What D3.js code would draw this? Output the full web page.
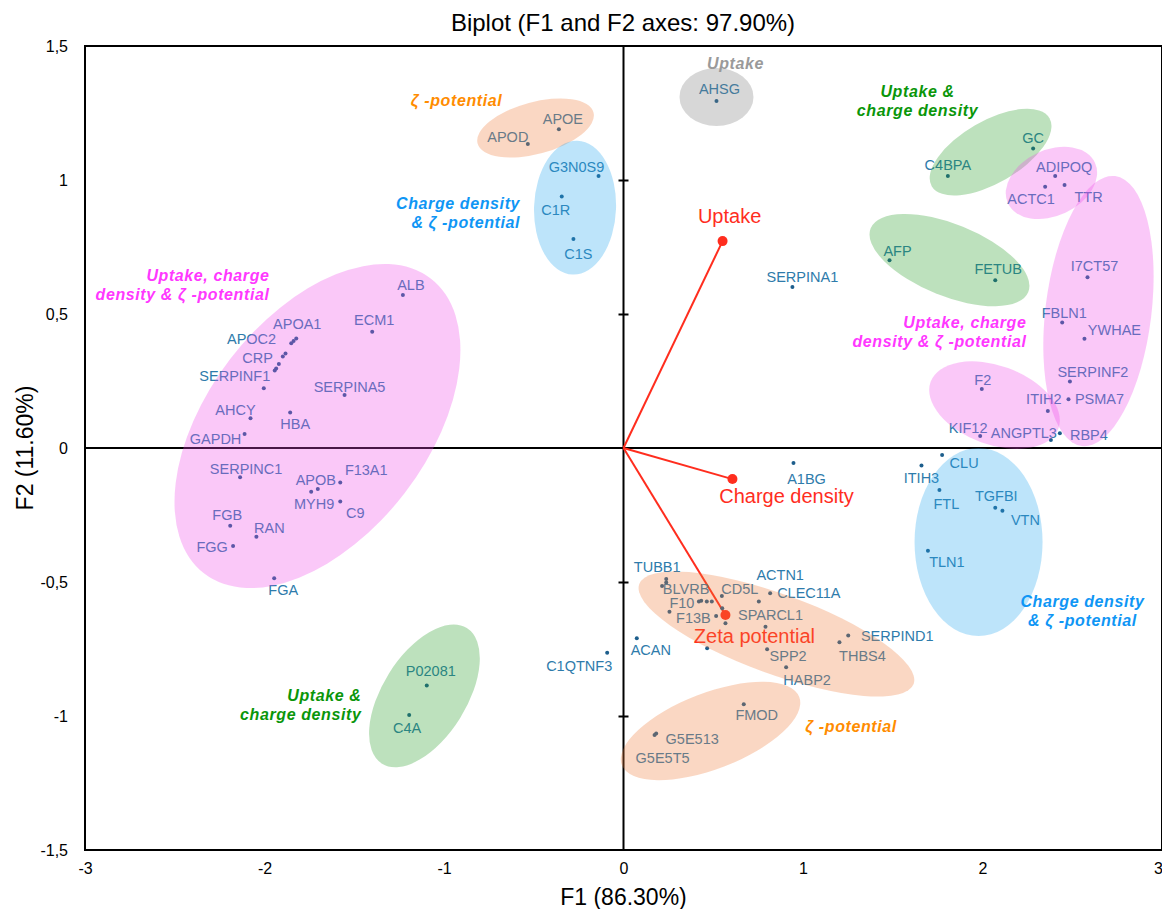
<!DOCTYPE html>
<html>
<head>
<meta charset="utf-8">
<script src="https://cdn.jsdelivr.net/npm/d3@7"></script>
<style>
  body { margin: 0; background: #fff; }
  svg { display: block; font-family: "Liberation Sans", Arial, sans-serif; }
</style>
</head>
<body>
<svg id="chart" width="1162" height="909"></svg>
<script>
// observations (proteins), "" = unlabeled point
const proteins = [
  "ALB","ECM1","APOA1","APOC2","","CRP","","","","","SERPINF1","SERPINA5","AHCY","HBA","GAPDH",
  "SERPINC1","APOB","MYH9","F13A1","C9","FGB","RAN","FGG","FGA",
  "APOE","APOD","G3N0S9","C1R","C1S","AHSG","SERPINA1","A1BG",
  "GC","C4BPA","ADIPOQ","ACTC1","TTR","AFP","FETUB","I7CT57","FBLN1","YWHAE","SERPINF2","PSMA7",
  "ITIH2","RBP4","ANGPTL3","KIF12","F2","CLU","ITIH3","FTL","TGFBI","VTN","TLN1",
  "TUBB1","","BLVRB","CD5L","ACTN1","CLEC11A","F10","","","","F13B","","","","SPARCL1","",
  "SPP2","HABP2","THBS4","SERPIND1","ACAN","FMOD","G5E513","G5E5T5","C1QTNF3","P02081","C4A"
];
const f1 = [
  -1.229,-1.400,-1.823,-1.838,-1.851,-1.883,-1.898,-1.920,-1.935,-1.943,-2.004,-1.554,-2.078,-1.857,-2.111,
  -2.136,-1.703,-1.740,-1.578,-1.578,-2.191,-2.045,-2.175,-1.946,
  -0.360,-0.533,-0.139,-0.344,-0.279,0.518,0.941,0.947,
  2.282,1.807,2.405,2.349,2.457,1.482,2.071,2.585,2.444,2.568,2.487,2.479,
  2.364,2.431,2.381,1.987,1.996,1.775,1.660,1.760,2.071,2.111,1.696,
  0.238,0.238,0.215,0.548,0.817,0.754,0.420,0.433,0.464,0.492,0.256,0.516,0.550,0.568,0.791,0.466,
  0.800,0.906,1.203,1.252,0.074,0.670,0.182,0.173,-0.091,-1.096,-1.194
];
const f2 = [
  0.571,0.434,0.409,0.399,0.391,0.353,0.341,0.313,0.297,0.289,0.223,0.198,0.111,0.132,0.052,
  -0.109,-0.153,-0.163,-0.129,-0.200,-0.290,-0.331,-0.366,-0.486,
  1.189,1.134,1.015,0.938,0.780,1.295,0.601,-0.056,
  1.118,1.015,1.015,0.975,0.981,0.701,0.626,0.637,0.468,0.408,0.248,0.182,
  0.138,0.055,0.030,0.045,0.220,-0.026,-0.065,-0.157,-0.223,-0.234,-0.383,
  -0.489,-0.502,-0.515,-0.552,-0.542,-0.573,-0.573,-0.570,-0.573,-0.573,-0.611,-0.627,-0.598,-0.654,-0.667,-0.747,
  -0.751,-0.818,-0.725,-0.700,-0.710,-0.956,-1.065,-1.071,-0.764,-0.886,-0.996
];

// active variables (vectors)
const variables = ["Uptake", "Charge density", "Zeta potential"];
const varF1 = [0.552, 0.607, 0.568];
const varF2 = [0.772, -0.116, -0.623];

const xTicks = [-3, -2, -1, 0, 1, 2, 3];
const yTicks = [-1.5, -1, -0.5, 0, 0.5, 1, 1.5];

// label placement (px offset of label centre from its point)
const labelOffset = {
  ALB:[8,-10], ECM1:[2,-12], APOA1:[1,-14], APOC2:[-42,-2], CRP:[-28,5], SERPINF1:[-29,-12],
  SERPINA5:[5,-8], AHCY:[-15,-8], HBA:[5,11], GAPDH:[-29,5], SERPINC1:[6,-8], APOB:[-2,-9],
  MYH9:[3,12], F13A1:[26,-13], C9:[15,11], FGB:[-3,-11], RAN:[13,-9], FGG:[-21,1], FGA:[9,12],
  APOE:[4,-10], APOD:[-20,-7], G3N0S9:[-22,-9], C1R:[-6,13], C1S:[5,15], AHSG:[3,-12],
  SERPINA1:[10,-10], A1BG:[13,16],
  GC:[0,-10], C4BPA:[0,-11], ADIPOQ:[9,-9], ACTC1:[-14,12], TTR:[24,12], AFP:[8,-9], FETUB:[3,-11],
  I7CT57:[7,-11], FBLN1:[2,-10], YWHAE:[30,-9], SERPINF2:[23,-10], PSMA7:[31,0], ITIH2:[-4,-12],
  RBP4:[29,2], ANGPTL3:[-27,-7], KIF12:[-12,-8], F2:[1,-9], CLU:[22,8], ITIH3:[0,13], FTL:[7,14],
  TGFBI:[1,-12], VTN:[23,9], TLN1:[19,11],
  TUBB1:[-9,-12], BLVRB:[24,3], CD5L:[18,-7], ACTN1:[10,-18], CLEC11A:[50,-9], F10:[-17,1],
  F13B:[24,6], SPARCL1:[5,-12], SPP2:[21,7], HABP2:[21,13], THBS4:[23,14], SERPIND1:[49,0],
  ACAN:[14,12], FMOD:[13,11], G5E513:[36,6], G5E5T5:[8,23], C1QTNF3:[-28,13], P02081:[4,-14], C4A:[-2,13]
};
const varLabelOffset = [[7,-25],[54,17],[29,21]];

// group ellipses: centre in F1/F2 units, radii px, rotation deg
const groups = [
  {f1:-1.705, f2: 0.082, rx:186, ry:110, rot:-52.5, color:"rgb(238,72,232)"},
  {f1:-0.490, f2: 1.194, rx:60,  ry:26,  rot:-15,   color:"rgb(238,122,55)"},
  {f1:-0.270, f2: 0.897, rx:41,  ry:67,  rot:2,     color:"rgb(38,165,238)"},
  {f1: 0.518, f2: 1.310, rx:37,  ry:29,  rot:0,     color:"rgb(122,122,122)"},
  {f1: 2.045, f2: 1.104, rx:68,  ry:31,  rot:-30,   color:"rgb(38,155,38)"},
  {f1: 2.384, f2: 0.989, rx:48,  ry:33,  rot:-25,   color:"rgb(238,72,232)"},
  {f1: 1.816, f2: 0.701, rx:85,  ry:36,  rot:22,    color:"rgb(38,155,38)"},
  {f1: 2.646, f2: 0.511, rx:53,  ry:136, rot:7,     color:"rgb(238,72,232)"},
  {f1: 2.067, f2: 0.160, rx:68,  ry:39.5,rot:20,    color:"rgb(238,72,232)"},
  {f1: 1.978, f2:-0.351, rx:64,  ry:94,  rot:0,     color:"rgb(38,165,238)"},
  {f1: 0.852, f2:-0.694, rx:146, ry:40,  rot:20,    color:"rgb(238,122,55)"},
  {f1: 0.485, f2:-1.056, rx:95,  ry:38,  rot:-21,   color:"rgb(238,122,55)"},
  {f1:-1.109, f2:-0.925, rx:80,  ry:42,  rot:-58,   color:"rgb(38,155,38)"}
];

// group captions
const captions = [
  {lines:["ζ -potential"], f1:-0.930, f2:1.295, anchor:"middle", color:"#ff8c00"},
  {lines:["Uptake"], f1:0.624, f2:1.433, anchor:"middle", color:"#9a9a9a"},
  {lines:["Uptake &","charge density"], f1:1.638, f2:1.332, anchor:"middle", color:"#0a960a"},
  {lines:["Charge density","& ζ -potential"], f1:-0.576, f2:0.914, anchor:"end", color:"#0f96f5"},
  {lines:["Uptake, charge","density & ζ -potential"], f1:-1.972, f2:0.642, anchor:"end", color:"#ff38ff"},
  {lines:["Uptake, charge","density & ζ -potential"], f1:2.245, f2:0.470, anchor:"end", color:"#ff38ff"},
  {lines:["Charge density","& ζ -potential"], f1:2.557, f2:-0.571, anchor:"middle", color:"#0f96f5"},
  {lines:["Uptake &","charge density"], f1:-1.460, f2:-0.922, anchor:"end", color:"#0a960a"},
  {lines:["ζ -potential"], f1:1.268, f2:-1.040, anchor:"middle", color:"#ff8c00"}
];

const width = 1162, height = 909;
const svg = d3.select("#chart");

const x = d3.scaleLinear().domain([-3, 3]).range([85, 1162]);
const y = d3.scaleLinear().domain([-1.5, 1.5]).range([850, 46]);
const comma = d => String(d).replace(".", ",");

// title
svg.append("text")
  .attr("x", 623).attr("y", 22)
  .attr("text-anchor", "middle").attr("dominant-baseline", "central")
  .style("font-size", "24px")
  .text("Biplot (F1 and F2 axes: 97.90%)");

// tick labels
svg.append("g")
  .attr("transform", `translate(${x(-3)},0)`)
  .call(d3.axisLeft(y).tickValues(yTicks).tickSize(0).tickPadding(17).tickFormat(comma))
  .call(g => g.select(".domain").remove())
  .selectAll("text").style("font-size", "16px").attr("fill", "#000")
  .attr("font-family", null);

svg.append("g")
  .attr("transform", `translate(0,${y(-1.5)})`)
  .call(d3.axisBottom(x).tickValues(xTicks).tickSize(0).tickPadding(13).tickFormat(comma))
  .call(g => g.select(".domain").remove())
  .selectAll("text").style("font-size", "16px").attr("fill", "#000")
  .attr("font-family", null)
  .attr("dx", d => d === 3 ? -4 : 0);

// axis titles
svg.append("text")
  .attr("x", x(0)).attr("y", 897)
  .attr("text-anchor", "middle").attr("dominant-baseline", "central")
  .style("font-size", "23px")
  .text("F1 (86.30%)");
svg.append("text")
  .attr("transform", `translate(25,${y(0)}) rotate(-90)`)
  .attr("text-anchor", "middle").attr("dominant-baseline", "central")
  .style("font-size", "23px")
  .text("F2 (11.60%)");

// frame
svg.append("rect")
  .attr("x", x(-3)).attr("y", y(1.5))
  .attr("width", x(3) - x(-3)).attr("height", y(-1.5) - y(1.5))
  .attr("fill", "none").attr("stroke", "#000").attr("stroke-width", 2);

// zero axes
svg.append("line")
  .attr("x1", x(-3)).attr("x2", x(3)).attr("y1", y(0)).attr("y2", y(0))
  .attr("stroke", "#000").attr("stroke-width", 2);
svg.append("line")
  .attr("x1", x(0)).attr("x2", x(0)).attr("y1", y(1.5)).attr("y2", y(-1.5))
  .attr("stroke", "#000").attr("stroke-width", 2);

const innerTicks = yTicks.filter(d => d !== 0 && Math.abs(d) < 1.5);
[d3.axisLeft, d3.axisRight].forEach(ax => {
  svg.append("g")
    .attr("transform", `translate(${x(0)},0)`)
    .call(ax(y).tickValues(innerTicks).tickSize(5).tickFormat(""))
    .call(g => g.select(".domain").remove())
    .selectAll("line").attr("stroke", "#000").attr("stroke-width", 2);
});

// variable vectors
const vec = svg.append("g");
variables.forEach((v, i) => {
  vec.append("line")
    .attr("x1", x(0)).attr("y1", y(0))
    .attr("x2", x(varF1[i])).attr("y2", y(varF2[i]))
    .attr("stroke", "#ff2d1e").attr("stroke-width", 2);
  vec.append("circle")
    .attr("cx", x(varF1[i])).attr("cy", y(varF2[i])).attr("r", 5)
    .attr("fill", "#ff2d1e");
  vec.append("text")
    .attr("x", x(varF1[i]) + varLabelOffset[i][0])
    .attr("y", y(varF2[i]) + varLabelOffset[i][1])
    .attr("text-anchor", "middle").attr("dominant-baseline", "central")
    .attr("fill", "#ff2d1e").style("font-size", "20px")
    .text(v);
});

// observations
const obs = proteins.map((p, i) => ({name: p, f1: f1[i], f2: f2[i]}));
svg.append("g").selectAll("circle")
  .data(obs).join("circle")
  .attr("cx", d => x(d.f1)).attr("cy", d => y(d.f2))
  .attr("r", 2).attr("fill", "#1d5e8c");

svg.append("g").selectAll("text")
  .data(obs.filter(d => d.name && labelOffset[d.name]))
  .join("text")
  .attr("x", d => x(d.f1) + labelOffset[d.name][0])
  .attr("y", d => y(d.f2) + labelOffset[d.name][1])
  .attr("text-anchor", "middle").attr("dominant-baseline", "central")
  .attr("fill", "#2e7bab").style("font-size", "14.5px")
  .text(d => d.name);

// group ellipses drawn on top, translucent
svg.append("g").selectAll("ellipse")
  .data(groups).join("ellipse")
  .attr("transform", d => `translate(${x(d.f1)},${y(d.f2)}) rotate(${d.rot})`)
  .attr("rx", d => d.rx).attr("ry", d => d.ry)
  .attr("fill", d => d.color).attr("fill-opacity", 0.3);

// group captions
const cap = svg.append("g")
  .style("font-size", "16px").style("font-weight", "bold").style("font-style", "italic")
  .style("letter-spacing", "0.6px");
captions.forEach(c => {
  c.lines.forEach((line, j) => {
    cap.append("text")
      .attr("x", x(c.f1)).attr("y", y(c.f2) + j * 19)
      .attr("text-anchor", c.anchor).attr("dominant-baseline", "central")
      .attr("fill", c.color)
      .text(line);
  });
});
</script>
</body>
</html>
